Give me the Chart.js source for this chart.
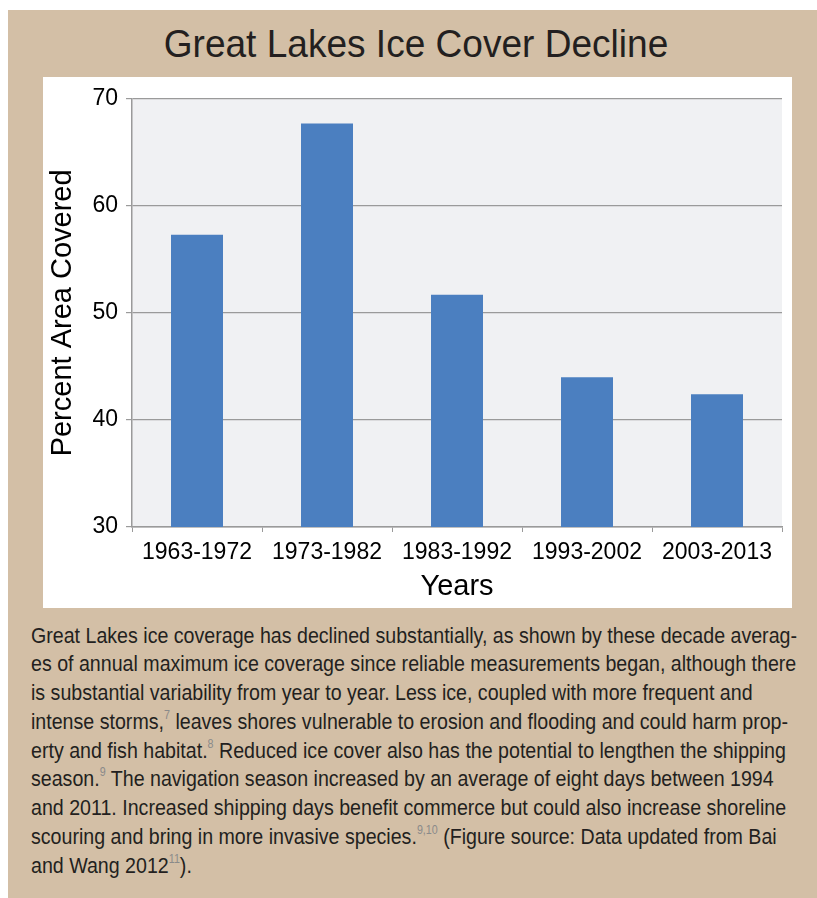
<!DOCTYPE html>
<html lang="en">
<head>
  <meta charset="UTF-8" />
  <title>Great Lakes Ice Cover Decline</title>
  <script src="https://cdn.jsdelivr.net/npm/chart.js"></script>
  <style>
    html, body {
      margin: 0;
      overflow: hidden;
    }

    body {
      background: #fff;
      width: 100vw;
      height: 100vh;
      position: relative;
    }

    .panel {
      position: absolute;
      left: 8px;
      top: 10px;
      right: -20px;
      bottom: -20px;
      background: #d3bfa6;
    }

    h1 {
      position: absolute;
      left: 416px;
      top: 23.5px;
      margin: 0;
      white-space: nowrap;
      transform: translateX(-50%) scaleX(0.95);
      font-family: 'Liberation Sans', Arial, sans-serif;
      font-weight: normal;
      font-size: 39px;
      line-height: 39px;
      color: #231f20;
    }

    #chart-box {
      position: absolute;
      left: 43px;
      top: 77px;
      width: 749px;
      height: 531px;
      background: #fff;
    }

    .caption {
      position: absolute;
      left: 31px;
      top: 621.5px;
      font-family: 'Liberation Sans', Arial, sans-serif;
      font-size: 22px;
      line-height: 28.75px;
      color: #231f20;
      white-space: nowrap;
      transform-origin: 0 0;
    }

    .caption sup {
      font-size: 12px;
      color: #8a8a8a;
      vertical-align: 10px;
      line-height: 0;
    }
  </style>
</head>
<body>
  <div class="panel"></div>
  <h1>Great Lakes Ice Cover Decline</h1>
  <div id="chart-box">
    <canvas id="iceChart" width="749" height="531"></canvas>
  </div>
  <div class="caption" id="caption">
    <span id="firstLine">Great Lakes ice coverage has declined substantially, as shown by these decade averag-</span><br>
    es of annual maximum ice coverage since reliable measurements began, although there<br>
    is substantial variability from year to year. Less ice, coupled with more frequent and<br>
    intense storms,<sup>7</sup> leaves shores vulnerable to erosion and flooding and could harm prop-<br>
    erty and fish habitat.<sup>8</sup> Reduced ice cover also has the potential to lengthen the shipping<br>
    season.<sup>9</sup> The navigation season increased by an average of eight days between 1994<br>
    and 2011. Increased shipping days benefit commerce but could also increase shoreline<br>
    scouring and bring in more invasive species.<sup>9,10</sup> (Figure source: Data updated from Bai<br>
    and Wang 2012<sup>11</sup>).
  </div>

  <script>
    const decades = ["1963-1972", "1973-1982", "1983-1992", "1993-2002", "2003-2013"];
    const iceCover = [57.3, 67.7, 51.7, 44.0, 42.4];
    const yTicks = [30, 40, 50, 60, 70];

    const FONT = "'Liberation Sans', Arial, sans-serif";
    const GRID = "#9a9a9a";

    // the printed caption uses a narrow face, squeeze the regular one to the same width
    const first = document.getElementById("firstLine").getBoundingClientRect().width;
    document.getElementById("caption").style.transform = "scaleX(" + (766 / first) + ")";

    // grey plot background
    const plotBg = {
      id: "plotBg",
      beforeDraw(chart) {
        const a = chart.chartArea;
        const c = chart.ctx;
        c.save();
        c.fillStyle = "#f0f1f3";
        c.fillRect(a.left, a.top, a.right - a.left, a.bottom - a.top);
        c.restore();
      }
    };

    new Chart(document.getElementById("iceChart"), {
      type: "bar",
      data: {
        labels: decades,
        datasets: [{
          data: iceCover,
          backgroundColor: "#4b7fc0",
          borderWidth: 0,
          categoryPercentage: 1,
          barPercentage: 0.4
        }]
      },
      options: {
        responsive: false,
        animation: false,
        devicePixelRatio: 1,
        layout: { padding: { top: 20, right: 10, left: 0, bottom: 0 } },
        plugins: {
          legend: { display: false },
          tooltip: { enabled: false }
        },
        scales: {
          x: {
            grid: {
              offset: true,
              drawOnChartArea: false,
              color: GRID,
              tickLength: 5
            },
            border: { color: GRID, width: 1.5 },
            ticks: {
              color: "#000",
              padding: 7,
              maxRotation: 0,
              font: { family: FONT, size: 23 }
            },
            title: {
              display: true,
              text: "Years",
              color: "#000",
              padding: { top: 0, bottom: 4 },
              font: { family: FONT, size: 29 }
            },
            afterFit(scale) { scale.height = 81; }
          },
          y: {
            min: 30,
            max: 70,
            afterBuildTicks(scale) {
              scale.ticks = yTicks.map(v => ({ value: v }));
            },
            grid: {
              color: GRID,
              tickLength: 6,
              lineWidth: 1.2
            },
            border: { color: GRID, width: 1.5 },
            ticks: {
              color: "#000",
              padding: 8,
              font: { family: FONT, size: 23 }
            },
            title: {
              display: true,
              text: "Percent Area Covered",
              color: "#000",
              padding: { top: 3, bottom: 0 },
              font: { family: FONT, size: 29 }
            },
            afterFit(scale) { scale.width = 89; }
          }
        }
      },
      plugins: [plotBg]
    });
  </script>
</body>
</html>
